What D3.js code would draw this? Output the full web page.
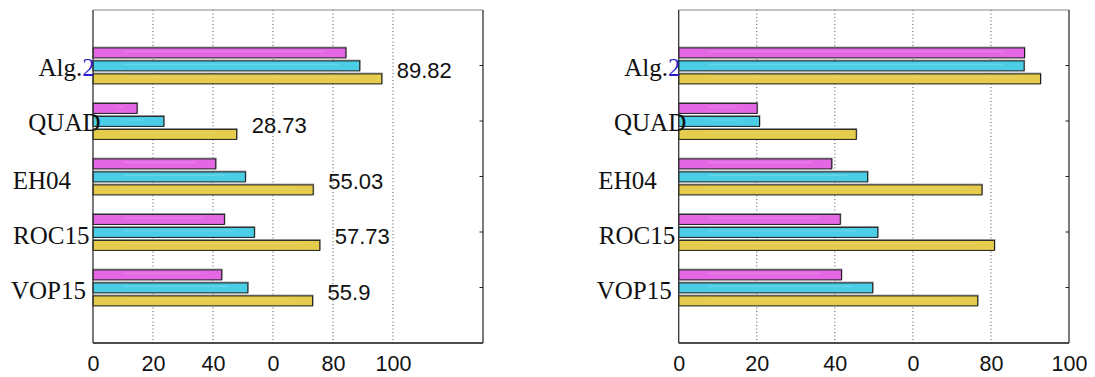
<!DOCTYPE html>
<html>
<head>
<meta charset="utf-8">
<script src="https://cdn.jsdelivr.net/npm/d3@7"></script>
<style>
  html, body { margin: 0; padding: 0; background: #fff; }
  svg { display: block; }
</style>
</head>
<body>
<svg id="chart" width="1095" height="377"></svg>
<script>
// Methods compared (top to bottom)
const categories = ["Alg.2", "QUAD", "EH04", "ROC15", "VOP15"];
const series = ["magenta", "cyan", "yellow"];

// Left panel scores per method
const leftMagenta = [84.3, 14.7, 40.9, 43.8, 42.9];
const leftCyan    = [88.9, 23.6, 50.8, 53.8, 51.6];
const leftYellow  = [96.26, 47.89, 73.39, 75.59, 73.2];
// Average score printed next to each group in the left panel
const leftAverages = ["89.82", "28.73", "55.03", "57.73", "55.9"];

// Right panel scores per method
const rightMagenta = [88.6, 20.1, 39.2, 41.4, 41.7];
const rightCyan    = [88.5, 20.7, 48.4, 51.0, 49.7];
const rightYellow  = [92.7, 45.5, 77.7, 80.9, 76.6];

// x-axis ticks and their printed labels
const tickValues = [0, 20, 40, 60, 80, 100];
const tickLabels = ["0", "20", "40", "0", "80", "100"];

// ---- drawing ----
const colors = { magenta: "#e468e4", cyan: "#4ccde6", yellow: "#e5cc4c" };
// small per-label nudges of the method names (end x, baseline y)
const nameNudgeX = [1.7, 7.5, -22, -3.5, -7];
const nameNudgeY = [10.7, 9.5, 12.5, 11.6, 11.7];

const svg = d3.select("#chart");
const plotTop = 10, plotBottom = 343;

const y = d3.scalePoint().domain(categories).range([plotTop, plotBottom]).padding(1);
const sub = d3.scaleBand().domain(series).range([-17.6, 18.4]).paddingInner(0.23);

function panel(x0, width, maxVal, data, averages) {
  const x = d3.scaleLinear().domain([0, maxVal]).range([x0, x0 + width]);
  const g = svg.append("g");

  // dotted vertical grid
  g.selectAll("line.grid").data(tickValues.filter(v => v > 0 && x(v) < x0 + width - 1))
    .join("line")
    .attr("x1", d => x(d)).attr("x2", d => x(d))
    .attr("y1", plotTop).attr("y2", plotBottom)
    .attr("stroke", "#555").attr("stroke-width", 1)
    .attr("stroke-dasharray", "1,2.5");

  // bottom axis labels
  const axis = d3.axisBottom(x).tickValues(tickValues)
    .tickFormat((d, i) => tickLabels[i]).tickSize(0).tickPadding(0);
  const ax = g.append("g").attr("transform", `translate(0,${plotBottom})`).call(axis);
  ax.select(".domain").remove();
  ax.selectAll("text")
    .attr("y", 27.5).attr("dy", null)
    .attr("font-family", "'Liberation Sans', Arial, sans-serif")
    .attr("font-size", 21.5).attr("fill", "#111");

  // bars
  categories.forEach((c, i) => {
    series.forEach(s => {
      const v = data[s][i];
      const by = y(c) + sub(s);
      g.append("rect")
        .attr("x", x(0) + 0.5).attr("y", by - 0.8)
        .attr("width", x(v) - x(0)).attr("height", sub.bandwidth())
        .attr("fill", "none").attr("stroke", "#9a9a9a").attr("stroke-width", 1);
      g.append("rect")
        .attr("x", x(0)).attr("y", by)
        .attr("width", x(v) - x(0)).attr("height", sub.bandwidth())
        .attr("fill", colors[s]).attr("stroke", "#1a1a1a").attr("stroke-width", 1);
      g.append("line")
        .attr("x1", x(0) + 30).attr("x2", x(v) - 20)
        .attr("y1", by + 3.5).attr("y2", by + 3.5)
        .attr("stroke", "#fff").attr("stroke-opacity", 0.15).attr("stroke-width", 1.2);
    });
    if (averages) {
      g.append("text")
        .attr("x", x(data.yellow[i]) + 15)
        .attr("y", y(c) + 12)
        .attr("font-family", "'Liberation Sans', Arial, sans-serif")
        .attr("font-size", 22).attr("fill", "#111")
        .text(averages[i]);
    }
  });

  // frame
  g.append("line").attr("x1", x0).attr("x2", x0 + width).attr("y1", plotTop).attr("y2", plotTop)
    .attr("stroke", "#8a8a8a").attr("stroke-width", 1.2);
  g.append("line").attr("x1", x0).attr("x2", x0 + width).attr("y1", plotBottom).attr("y2", plotBottom)
    .attr("stroke", "#111").attr("stroke-width", 1.3);
  [x0, x0 + width].forEach(xx => {
    g.append("line").attr("x1", xx).attr("x2", xx).attr("y1", plotTop).attr("y2", plotBottom)
      .attr("stroke", "#333").attr("stroke-width", 1.3);
  });

  // inward ticks on the right edge
  g.selectAll("line.rtick").data(categories).join("line")
    .attr("x1", x0 + width - 3.5).attr("x2", x0 + width)
    .attr("y1", d => y(d)).attr("y2", d => y(d))
    .attr("stroke", "#222").attr("stroke-width", 1);

  // method names
  categories.forEach((c, i) => {
    const t = g.append("text")
      .attr("x", x0 + nameNudgeX[i])
      .attr("y", y(c) + nameNudgeY[i])
      .attr("text-anchor", "end")
      .attr("font-family", "'Liberation Serif', 'Times New Roman', serif")
      .attr("font-size", 25).attr("fill", "#111");
    const m = c.match(/^(Alg\.)(\d+)$/);
    if (m) {
      t.append("tspan").text(m[1]);
      t.append("tspan").attr("fill", "#2a1fd0").text(m[2]);
    } else {
      t.text(c);
    }
  });
}

panel(93, 390, 130,
  { magenta: leftMagenta, cyan: leftCyan, yellow: leftYellow }, leftAverages);
panel(678.7, 390.3, 100,
  { magenta: rightMagenta, cyan: rightCyan, yellow: rightYellow }, null);
</script>
</body>
</html>
